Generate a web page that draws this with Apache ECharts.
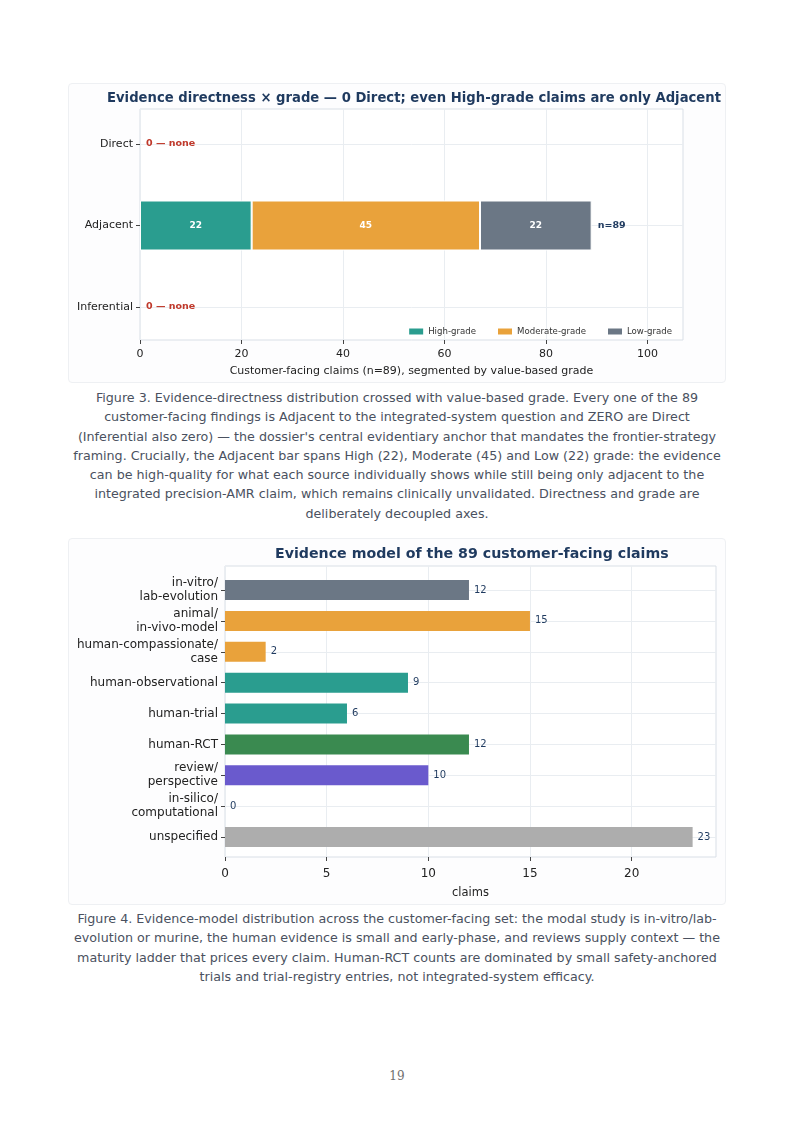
<!DOCTYPE html>
<html>
<head>
<meta charset="utf-8">
<script src="https://cdn.jsdelivr.net/npm/echarts@6/dist/echarts.min.js"></script>
<style>
  body { margin: 0; background: #fff; font-family: 'DejaVu Sans', sans-serif; }
  .page { position: relative; width: 794px; height: 1123px; }
  .fig { position: absolute; left: 68px; width: 658px; background: #fdfdfe; border: 1px solid #eef0f3; border-radius: 4px; box-sizing: border-box; }
  .fig > div { width: 100%; height: 100%; }
  .caption { position: absolute; left: 40px; width: 714px; text-align: center; color: #4a5160; font-size: 12.7px; line-height: 19.3px; white-space: nowrap; }
  .pageno { position: absolute; top: 1069px; width: 794px; text-align: center; font-family: 'DejaVu Serif', serif; font-size: 12px; color: #707070; }
</style>
</head>
<body>
<div class="page">
  <div class="fig" style="top:83px;height:300px"><div id="chart1"></div></div>
  <div class="caption" style="top:388px">
    Figure 3. Evidence-directness distribution crossed with value-based grade. Every one of the 89<br>
    customer-facing findings is Adjacent to the integrated-system question and ZERO are Direct<br>
    (Inferential also zero) — the dossier's central evidentiary anchor that mandates the frontier-strategy<br>
    framing. Crucially, the Adjacent bar spans High (22), Moderate (45) and Low (22) grade: the evidence<br>
    can be high-quality for what each source individually shows while still being only adjacent to the<br>
    integrated precision-AMR claim, which remains clinically unvalidated. Directness and grade are<br>
    deliberately decoupled axes.
  </div>
  <div class="fig" style="top:538px;height:367px"><div id="chart2"></div></div>
  <div class="caption" style="top:909px">
    Figure 4. Evidence-model distribution across the customer-facing set: the modal study is in-vitro/lab-<br>
    evolution or murine, the human evidence is small and early-phase, and reviews supply context — the<br>
    maturity ladder that prices every claim. Human-RCT counts are dominated by small safety-anchored<br>
    trials and trial-registry entries, not integrated-system efficacy.
  </div>
  <div class="pageno">19</div>
</div>

<script>
// figure 3 data
var directness = ['Direct', 'Adjacent', 'Inferential'];
var gradeNames = ['High-grade', 'Moderate-grade', 'Low-grade'];
var highGrade = [0, 22, 0];
var moderateGrade = [0, 45, 0];
var lowGrade = [0, 22, 0];
var xTicks1 = [0, 20, 40, 60, 80, 100];

// figure 4 data
var models = ['in-vitro/\nlab-evolution', 'animal/\nin-vivo-model', 'human-compassionate/\ncase',
  'human-observational', 'human-trial', 'human-RCT', 'review/\nperspective',
  'in-silico/\ncomputational', 'unspecified'];
var modelCounts = [12, 15, 2, 9, 6, 12, 10, 0, 23];
var xTicks2 = [0, 5, 10, 15, 20];

var gradeColors = ['#2a9d8f', '#e9a23b', '#6b7785'];
var modelColors = ['#6b7785', '#e9a23b', '#e9a23b', '#2a9d8f', '#2a9d8f', '#3a8a50', '#6a5acd', '#6a5acd', '#adadad'];
var FONT = 'DejaVu Sans';
var NAVY = '#1f3a5f';
var GRIDC = '#e9edf1';
var FRAMEC = '#d9dfe6';

var chart1 = echarts.init(document.getElementById('chart1'));
var gradeData = [highGrade, moderateGrade, lowGrade];
var totals = directness.map(function (d, i) { return highGrade[i] + moderateGrade[i] + lowGrade[i]; });

var series1 = gradeData.map(function (vals, k) {
  return {
    name: gradeNames[k], type: 'bar', stack: 'g', xAxisIndex: 0, yAxisIndex: 0,
    barWidth: 50, clip: false,
    itemStyle: { color: gradeColors[k] },
    data: vals.map(function (v) {
      // white separators only on real segments, so empty rows leave the spine alone
      return { value: v, itemStyle: { borderColor: '#fff', borderWidth: v > 0 ? 1 : 0 } };
    }),
    label: {
      show: true, position: 'inside', color: '#fff', fontFamily: FONT, fontWeight: 'bold', fontSize: 9,
      formatter: function (p) { return p.value > 0 ? p.value : ''; }
    }
  };
});
// zero-width marker carrying the n= / none annotation at the end of each stack
series1.push({
  name: 'total', type: 'bar', stack: 'g', xAxisIndex: 0, yAxisIndex: 0, barWidth: 50, clip: false,
  itemStyle: { color: 'rgba(0,0,0,0)', borderWidth: 0 },
  data: totals.map(function (t) {
    return {
      value: 0,
      label: {
        show: true, position: 'right', distance: 6, fontFamily: FONT, fontWeight: 'bold', fontSize: 9.5,
        color: t > 0 ? NAVY : '#c0392b',
        formatter: t > 0 ? 'n=' + t : '0 — none'
      }
    };
  })
});

chart1.setOption({
  animation: false,
  title: {
    text: 'Evidence directness × grade — 0 Direct; even High-grade claims are only Adjacent',
    left: 33, top: 3,
    textStyle: { fontFamily: FONT, fontWeight: 'bold', fontSize: 13.2, color: NAVY }
  },
  legend: {
    data: gradeNames, right: 48, top: 238, icon: 'rect', itemWidth: 14, itemHeight: 6, itemGap: 22,
    textStyle: { fontFamily: FONT, fontSize: 8.6, color: '#333' }
  },
  grid: [
    { left: 71, right: 42, top: 60, height: 163 },
    { left: 71, right: 42, top: 25, height: 234, show: true, borderColor: FRAMEC, borderWidth: 1, backgroundColor: '#fff' }
  ],
  xAxis: [
    { gridIndex: 0, type: 'value', min: 0, max: 107, show: false },
    {
      gridIndex: 1, type: 'value', min: 0, max: 107,
      name: 'Customer-facing claims (n=89), segmented by value-based grade',
      nameLocation: 'middle', nameGap: 26,
      nameTextStyle: { fontFamily: FONT, fontSize: 11, color: '#222' },
      axisLine: { show: false },
      axisTick: { show: true, length: 4, customValues: xTicks1, lineStyle: { color: '#444' } },
      axisLabel: { customValues: xTicks1, fontFamily: FONT, fontSize: 11, color: '#222', margin: 9 },
      splitLine: { show: true, lineStyle: { color: GRIDC } }
    }
  ],
  yAxis: [
    {
      gridIndex: 0, type: 'category', data: directness, inverse: true, boundaryGap: false,
      axisLine: { show: false },
      axisTick: { show: true, length: 4, lineStyle: { color: '#444' } },
      axisLabel: { fontFamily: FONT, fontSize: 11, color: '#222', margin: 7 },
      splitLine: { show: true, lineStyle: { color: GRIDC } }
    },
    { gridIndex: 1, type: 'value', show: false }
  ],
  series: series1
});

var chart2 = echarts.init(document.getElementById('chart2'));
chart2.setOption({
  animation: false,
  title: {
    text: 'Evidence model of the 89 customer-facing claims',
    left: 201, top: 3,
    textStyle: { fontFamily: FONT, fontWeight: 'bold', fontSize: 14.2, color: NAVY }
  },
  grid: [
    { left: 156, right: 9, top: 51, height: 247 },
    { left: 156, right: 9, top: 27, height: 295, show: true, borderColor: FRAMEC, borderWidth: 1, backgroundColor: '#fff' }
  ],
  xAxis: [
    { gridIndex: 0, type: 'value', min: 0, max: 24.15, show: false },
    {
      gridIndex: 1, type: 'value', min: 0, max: 24.15,
      name: 'claims', nameLocation: 'middle', nameGap: 30,
      nameTextStyle: { fontFamily: FONT, fontSize: 11.5, color: '#222' },
      axisLine: { show: false },
      axisTick: { show: true, length: 4, customValues: xTicks2, lineStyle: { color: '#444' } },
      axisLabel: { customValues: xTicks2, fontFamily: FONT, fontSize: 12, color: '#222', margin: 11 },
      splitLine: { show: true, lineStyle: { color: GRIDC } }
    }
  ],
  yAxis: [
    {
      gridIndex: 0, type: 'category', data: models, inverse: true, boundaryGap: false,
      axisLine: { show: false },
      axisTick: { show: true, length: 4, lineStyle: { color: '#444' } },
      axisLabel: { fontFamily: FONT, fontSize: 12, color: '#222', margin: 7, lineHeight: 14 },
      splitLine: { show: true, lineStyle: { color: GRIDC } }
    },
    { gridIndex: 1, type: 'value', show: false }
  ],
  series: [{
    type: 'bar', xAxisIndex: 0, yAxisIndex: 0, barWidth: 20, clip: false,
    data: modelCounts.map(function (v, i) {
      return { value: v, itemStyle: { color: modelColors[i] } };
    }),
    label: {
      show: true, position: 'right', distance: 5, fontFamily: FONT, fontSize: 10, color: NAVY
    }
  }]
});
</script>
</body>
</html>
